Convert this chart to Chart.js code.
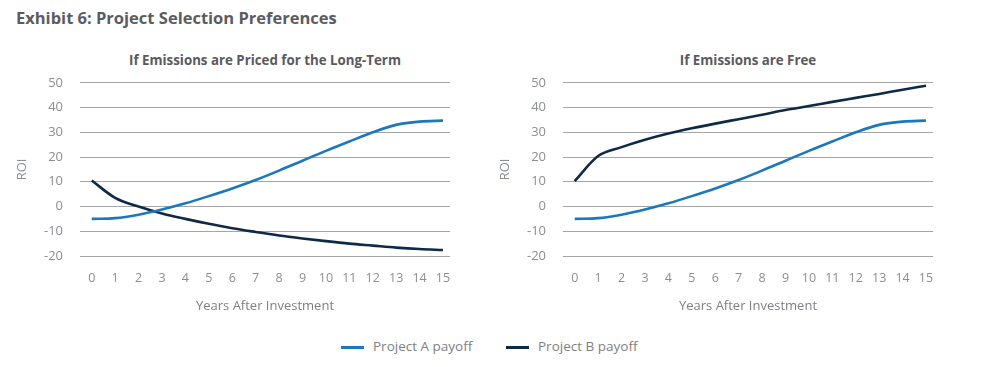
<!DOCTYPE html>
<html><head><meta charset="utf-8">
<script src="https://cdn.jsdelivr.net/npm/chart.js@4"></script>
<style>
body{margin:0;width:985px;height:367px;background:#fff;position:relative;overflow:hidden;font-family:"Open Sans",sans-serif;}
#main{position:absolute;left:16px;top:6px;font-size:16.5px;font-weight:bold;color:#5b5c5f;white-space:nowrap;}
.sub{position:absolute;top:51px;font-size:13.3px;font-weight:bold;color:#595a5d;white-space:nowrap;transform:translateX(-50%);}
.cv{position:absolute;top:58px;width:470px;height:262px;}
#legend{position:absolute;top:337px;left:0;width:985px;font-size:13.5px;color:#7d7f83;}
.li{position:absolute;top:0;white-space:nowrap;}
.sw{position:absolute;top:9px;width:23px;height:3px;}
</style></head><body>
<div id="main">Exhibit 6: Project Selection Preferences</div>
<div class="sub" style="left:265px">If Emissions are Priced for the Long-Term</div>
<div class="sub" style="left:748px">If Emissions are Free</div>
<div class="cv" style="left:0"><canvas id="c1"></canvas></div>
<div class="cv" style="left:483px"><canvas id="c2"></canvas></div>
<div id="legend">
  <div class="sw" style="left:341px;background:#1b78bd"></div><div class="li" style="left:373px">Project A payoff</div>
  <div class="sw" style="left:506px;background:#0e2a47"></div><div class="li" style="left:538px">Project B payoff</div>
</div>
<script>
const years = [0,1,2,3,4,5,6,7,8,9,10,11,12,13,14,15];
const seriesNames = ["Project A payoff","Project B payoff"];
const pricedA = [-5,-4.7,-3.3,-1.2,1.3,4.2,7.3,10.7,14.5,18.5,22.5,26.3,30,33,34.3,34.7];
const pricedB = [10.5,3.5,0,-2.8,-5,-7,-8.8,-10.3,-11.7,-12.9,-14,-15,-15.8,-16.6,-17.2,-17.6];
const freeA = [-5,-4.7,-3.3,-1.2,1.3,4.2,7.3,10.7,14.5,18.5,22.5,26.3,30,33,34.3,34.7];
const freeB = [10.3,20.4,24,27,29.5,31.6,33.5,35.3,37.1,39,40.6,42.3,43.9,45.5,47.2,48.8];
const yTicks = [50,40,30,20,10,0,-10,-20];
const colors = ["#1b78bd","#0e2a47"];
const FONT = "'Open Sans', sans-serif";

function pts(arr){ return years.map((x,i)=>({x:x,y:arr[i]})); }

function make(id, a, b){
  new Chart(document.getElementById(id), {
    type:'line',
    data:{datasets:[
      {label:seriesNames[0], data:pts(a), borderColor:colors[0], borderWidth:2.6, pointRadius:0, cubicInterpolationMode:'monotone', fill:false},
      {label:seriesNames[1], data:pts(b), borderColor:colors[1], borderWidth:2.6, pointRadius:0, cubicInterpolationMode:'monotone', fill:false}
    ]},
    options:{
      responsive:true, maintainAspectRatio:false, animation:false,
      layout:{padding:{top:0,right:20,left:0,bottom:0}},
      plugins:{legend:{display:false}, tooltip:{enabled:false}},
      scales:{
        x:{type:'linear', min:-0.5, max:15.3,
           afterBuildTicks:(s)=>{s.ticks = years.map(v=>({value:v}));},
           afterFit:(s)=>{s.height=64;},
           grid:{display:false, drawTicks:false}, border:{display:false},
           ticks:{padding:15, color:'#8b8e92', font:{family:FONT,size:12.5}, autoSkip:false, maxRotation:0},
           title:{display:true, text:'Years After Investment', color:'#7d7f83', font:{family:FONT,size:13}, padding:{top:4,bottom:6}}
        },
        y:{min:-20, max:50,
           afterBuildTicks:(s)=>{s.ticks = yTicks.map(v=>({value:v}));},
           afterFit:(s)=>{s.width=80;},
           grid:{color:'#a3a5a8', lineWidth:1, drawTicks:false}, border:{display:false},
           ticks:{padding:17, color:'#8b8e92', font:{family:FONT,size:13}},
           title:{display:true, text:'ROI', color:'#8b8e92', font:{family:FONT,size:13}, padding:{top:14,bottom:0}}
        }
      }
    }
  });
}
make('c1', pricedA, pricedB);
make('c2', freeA, freeB);
</script>
</body></html>
